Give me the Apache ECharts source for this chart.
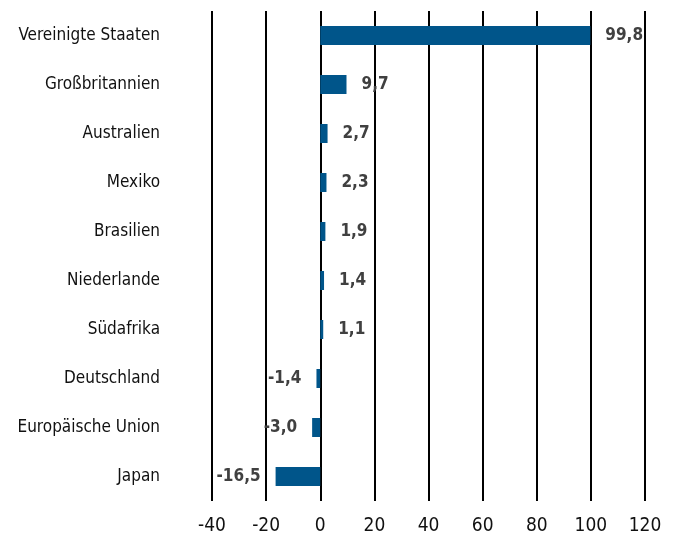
<!DOCTYPE html>
<html><head><meta charset="utf-8">
<script src="https://cdn.jsdelivr.net/npm/echarts@6/dist/echarts.min.js"></script>
<style>html,body{margin:0;padding:0;background:#fff}#c{width:683px;height:536px}</style>
</head><body><div id="c"></div>
<script>
var categories = ["Vereinigte Staaten","Großbritannien","Australien","Mexiko","Brasilien","Niederlande","Südafrika","Deutschland","Europäische Union","Japan"];
var values = [99.8, 9.7, 2.7, 2.3, 1.9, 1.4, 1.1, -1.4, -3.0, -16.5];
var xTicks = [-40, 120, 20];
var chart = echarts.init(document.getElementById('c'));
var fontN = "'DejaVu Sans Condensed','Liberation Sans Narrow','Arial Narrow',sans-serif";
var data = values.map(function(v){return {value:v,label:{position:v<0?'left':'right'}};});
chart.setOption({
  animation:false,
  grid:{left:212,right:38,top:11,bottom:33,containLabel:false},
  xAxis:{type:'value',min:xTicks[0],max:xTicks[1],interval:xTicks[2],
    axisLine:{show:false},axisTick:{show:false},
    splitLine:{show:true,lineStyle:{color:'#000',width:2}},
    axisLabel:{color:'#111',fontSize:19,fontFamily:fontN,margin:16}},
  yAxis:{type:'category',data:categories,inverse:true,
    axisLine:{show:false},axisTick:{show:false},
    axisLabel:{color:'#111',fontSize:17,fontFamily:fontN,margin:52,padding:[4,0,0,0]}},
  series:[{type:'bar',data:data,barWidth:19,itemStyle:{color:'#00558a'},
    label:{show:true,fontFamily:fontN,fontWeight:'bold',fontSize:17,color:'#404040',distance:15,padding:[4,0,0,0],
      formatter:function(p){return p.value.toFixed(1).replace('.',',');}}}]
});
</script></body></html>
